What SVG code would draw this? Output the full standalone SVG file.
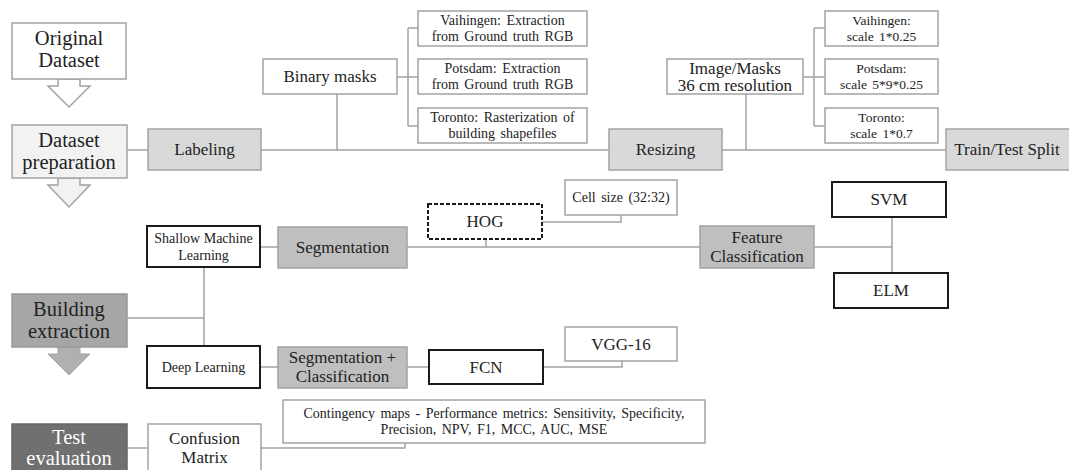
<svg xmlns="http://www.w3.org/2000/svg" width="1069" height="470" viewBox="0 0 1069 470">
<style>
text{font-family:"Liberation Serif","DejaVu Serif",serif;fill:#222;text-anchor:middle}
.lb{fill:#fff;stroke:#a3a3a3;stroke-width:1.5}
.db{fill:#fff;stroke:#1a1a1a;stroke-width:2}
.g1{fill:#f2f2f2;stroke:#a3a3a3;stroke-width:1.5}
.g2{fill:#d9d9d9;stroke:#a3a3a3;stroke-width:1.5}
.g3{fill:#bfbfbf;stroke:#a3a3a3;stroke-width:1.5}
.g4{fill:#a6a6a6;stroke:#999;stroke-width:1.5}
.g5{fill:#707070;stroke:#666;stroke-width:1.5}
.c{fill:none;stroke:#a3a3a3;stroke-width:1.5}
.big{font-size:20.5px}
.mid{font-size:17px}
.sm{font-size:14px;word-spacing:2px}
.sc{font-size:13.5px;word-spacing:2px}
.xs{font-size:14px}
.ct{font-size:14px;word-spacing:2px}
</style>
<rect width="1069" height="470" fill="#fff"/>
<g id="connectors">
<path class="c" d="M127 150H148M261 150H609M722 150H946"/>
<path class="c" d="M337 94V150M746 94V150"/>
<path class="c" d="M397 77H408M408 28V126M408 28H418M408 126H418M408 77H418"/>
<path class="c" d="M803 77H814M814 28V126M814 28H825M814 126H825M814 77H825"/>
<path class="c" d="M260 247H278M407 247H700M486 239V247M542 222H621V215"/>
<path class="c" d="M814 247H892M892 217V273"/>
<path class="c" d="M204 267V346M127 318H204"/>
<path class="c" d="M260 367H278M407 367H429M543 367H622V361"/>
<path class="c" d="M127 448H148M261 448H405V443"/>
</g>
<g id="arrow1"><polygon points="58,79 80,79 80,86 90,86 69,107 48,86 58,86" fill="#fff" stroke="#a3a3a3" stroke-width="1.5"/></g>
<g id="arrow2"><polygon points="58,178 80,178 80,185 90,185 69,207 48,185 58,185" fill="#f2f2f2" stroke="#a3a3a3" stroke-width="1.5"/></g>
<g id="arrow3"><polygon points="58,347 80,347 80,354 90,354 69,375 48,354 58,354" fill="#b0b0b0" stroke="#a3a3a3" stroke-width="1"/></g>
<g id="original-dataset"><rect class="lb" x="12" y="23" width="114" height="56"/><text class="big" x="69" y="45">Original</text><text class="big" x="69" y="67">Dataset</text></g>
<g id="dataset-preparation"><rect class="g1" x="12" y="125" width="115" height="53"/><text class="big" x="69" y="147">Dataset</text><text class="big" x="69" y="169">preparation</text></g>
<g id="labeling"><rect class="g2" x="148" y="129" width="113" height="41"/><text class="mid" x="204.5" y="155">Labeling</text></g>
<g id="binary-masks"><rect class="lb" x="263" y="59" width="134" height="35"/><text class="mid" x="330" y="82">Binary masks</text></g>
<g id="vaihingen-ext"><rect class="lb" x="418" y="11" width="169" height="35"/><text class="sm" x="502.5" y="25">Vaihingen: Extraction</text><text class="sm" x="502.5" y="41">from Ground truth RGB</text></g>
<g id="potsdam-ext"><rect class="lb" x="418" y="59" width="169" height="35"/><text class="sm" x="502.5" y="73">Potsdam: Extraction</text><text class="sm" x="502.5" y="89">from Ground truth RGB</text></g>
<g id="toronto-ext"><rect class="lb" x="418" y="108" width="169" height="35"/><text class="sm" x="502.5" y="122">Toronto: Rasterization of</text><text class="sm" x="502.5" y="138">building shapefiles</text></g>
<g id="resizing"><rect class="g2" x="609" y="129" width="113" height="41"/><text class="mid" x="665.5" y="155">Resizing</text></g>
<g id="image-masks"><rect class="lb" x="667" y="59" width="136" height="35"/><text class="mid" x="735" y="74">Image/Masks</text><text class="mid" x="735" y="91">36 cm resolution</text></g>
<g id="vaihingen-scale"><rect class="lb" x="825" y="11" width="113" height="35"/><text class="sc" x="881.5" y="25">Vaihingen:</text><text class="sc" x="881.5" y="41">scale 1*0.25</text></g>
<g id="potsdam-scale"><rect class="lb" x="825" y="59" width="113" height="35"/><text class="sc" x="881.5" y="73">Potsdam:</text><text class="sc" x="881.5" y="89">scale 5*9*0.25</text></g>
<g id="toronto-scale"><rect class="lb" x="825" y="108" width="113" height="35"/><text class="sc" x="881.5" y="122">Toronto:</text><text class="sc" x="881.5" y="138">scale 1*0.7</text></g>
<g id="train-test-split"><rect class="g2" x="946" y="129" width="125" height="41"/><text class="mid" x="1007" y="155">Train/Test Split</text></g>
<g id="shallow-ml"><rect class="db" x="147" y="226" width="113" height="41"/><text class="xs" x="203.5" y="243">Shallow Machine</text><text class="xs" x="203.5" y="260">Learning</text></g>
<g id="segmentation"><rect class="g3" x="278" y="227" width="129" height="41"/><text class="mid" x="342.5" y="253">Segmentation</text></g>
<g id="hog"><rect x="428" y="204" width="114" height="35" fill="#fff" stroke="#1a1a1a" stroke-width="2" stroke-dasharray="4,2"/><text class="mid" x="485" y="227">HOG</text></g>
<g id="cell-size"><rect class="lb" x="565" y="180" width="112" height="35"/><text class="sm" x="621" y="202">Cell size (32:32)</text></g>
<g id="feature-classification"><rect class="g3" x="700" y="226" width="114" height="42"/><text class="mid" x="757" y="243">Feature</text><text class="mid" x="757" y="262">Classification</text></g>
<g id="svm"><rect class="db" x="832" y="182" width="114" height="35"/><text class="mid" x="889" y="205">SVM</text></g>
<g id="elm"><rect class="db" x="834" y="273" width="114" height="35"/><text class="mid" x="891" y="296">ELM</text></g>
<g id="building-extraction"><rect class="g4" x="12" y="294" width="115" height="53"/><text class="big" x="69" y="316">Building</text><text class="big" x="69" y="338">extraction</text></g>
<g id="deep-learning"><rect class="db" x="147" y="346" width="113" height="42"/><text class="xs" x="203.5" y="372">Deep Learning</text></g>
<g id="seg-class"><rect class="g3" x="278" y="347" width="129" height="41"/><text class="mid" x="342.5" y="363">Segmentation +</text><text class="mid" x="342.5" y="382">Classification</text></g>
<g id="fcn"><rect class="db" x="429" y="350" width="114" height="34"/><text class="mid" x="486" y="373">FCN</text></g>
<g id="vgg16"><rect class="lb" x="565" y="327" width="112" height="34"/><text class="mid" x="621" y="350">VGG-16</text></g>
<g id="test-evaluation"><rect class="g5" x="12" y="424" width="115" height="50"/><text class="big" x="69" y="444" style="fill:#fff">Test</text><text class="big" x="69" y="465" style="fill:#fff">evaluation</text></g>
<g id="confusion-matrix"><rect class="lb" x="148" y="424" width="113" height="50"/><text class="mid" x="204.5" y="444">Confusion</text><text class="mid" x="204.5" y="463">Matrix</text></g>
<g id="contingency"><rect class="lb" x="283" y="400" width="422" height="43"/><text class="ct" x="494" y="418">Contingency maps - Performance metrics: Sensitivity, Specificity,</text><text class="ct" x="494" y="434">Precision, NPV, F1, MCC, AUC, MSE</text></g>
</svg>
